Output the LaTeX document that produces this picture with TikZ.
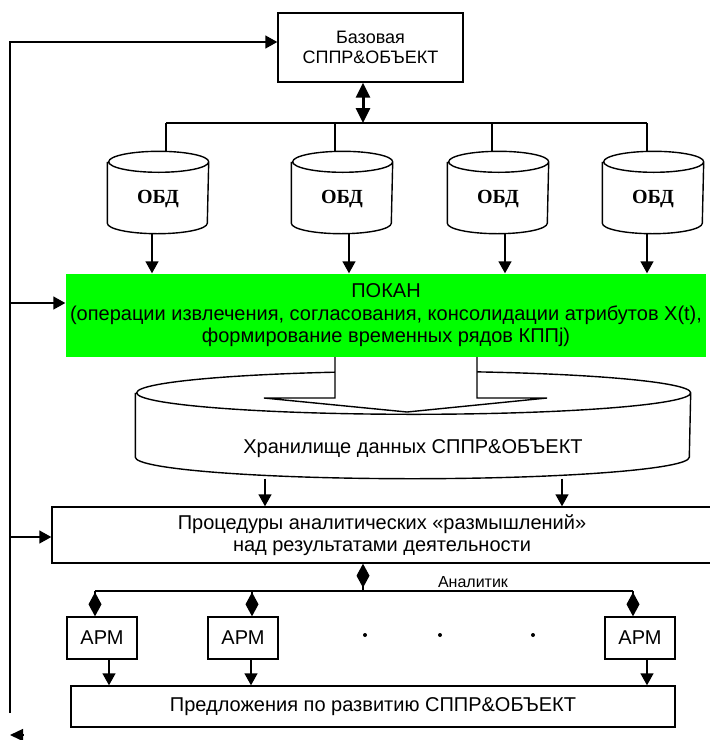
\documentclass[tikz,border=0pt]{standalone}
\usepackage{fontspec}
\setmainfont{Liberation Sans}
\newfontfamily\obdfont{Liberation Serif}
\usetikzlibrary{arrows.meta}
\definecolor{pokangreen}{RGB}{0,255,0}
\tikzset{box/.style={draw,rectangle,align=center,inner sep=0pt,font=\fontsize{20}{22}\selectfont},
  bd/.style={rectangle,inner sep=0pt,minimum width=100pt,minimum height=81pt,text height=27pt,font=\obdfont\bfseries\fontsize{20}{22}\selectfont},
  arr/.style={-{Triangle[length=12pt,width=13pt]}},
  dia/.style={-{Diamond[length=24pt,width=13pt]}}}

\begin{document}
\begin{tikzpicture}[x=1pt,y=-1pt,line width=1.4pt]
\useasboundingbox (0,0) rectangle (710,740);

\node[box,minimum width=185pt,minimum height=69pt,font=\fontsize{18}{20}\selectfont] (top) at (370.5,47.5) {Базовая\\СППР\&ОБЪЕКТ};
\foreach \i/\x in {1/158,2/342,3/498,4/653}
  \node[bd] (obd\i) at (\x,192.5) {ОБД};
\coordinate (b1) at (166,123);
\coordinate (b2) at (335,123);
\coordinate (b3) at (492,123);
\coordinate (b4) at (647,123);
\node[box,draw=none,fill=pokangreen,minimum width=640pt,minimum height=83pt,font=\fontsize{20}{22.5}\selectfont] (pokan) at (386,315.5)
  {ПОКАН\\(операции извлечения, согласования, консолидации атрибутов X(t),\\формирование временных рядов КППj)};
\node[rectangle,inner sep=0pt,minimum width=554pt,minimum height=106pt,text height=62pt,font=\fontsize{20}{22}\selectfont] (store) at (413,425) {Хранилище данных СППР\&ОБЪЕКТ};
\foreach \n/\r/\s in {obd1/50/10.5,obd2/50/10.5,obd3/50/10.5,obd4/50/10.5,store/277/21.5}
  \draw ([yshift=-\s pt]\n.north west) -- ([yshift=\s pt]\n.south west)
    arc[start angle=180,end angle=360,x radius=\r pt,y radius=\s pt]
    -- ([yshift=-\s pt]\n.north east)
    arc[start angle=0,end angle=360,x radius=\r pt,y radius=\s pt];
\fill[white] (335,357) -- (335,398) -- (264,398) -- (407,412) -- (547,398) -- (477,398) -- (477,357) -- cycle;
\draw[line join=miter] (335,357) -- (335,398) -- (264,398) -- (407,412) -- (547,398) -- (477,398) -- (477,357);
\node[box,minimum width=660pt,minimum height=56pt] (proc) at (382,535)
  {Процедуры аналитических «размышлений»\\над результатами деятельности};
\node[font=\fontsize{16}{18}\selectfont,inner sep=0pt] (analyst) at (473,582) {Аналитик};
\coordinate (an) at (363,591);
\foreach \i/\x in {1/102,2/243,3/640}
  \node[box,minimum width=70pt,minimum height=42pt] (apm\i) at (\x,638) {АРМ};
\node[box,minimum width=604pt,minimum height=41pt] (sug) at (373,706.5) {Предложения по развитию СППР\&ОБЪЕКТ};
\coordinate (fb) at (10,713);
\coordinate (fbend) at (10,735);

\draw[line width=3pt,{Triangle[length=15pt,width=14pt]}-{Triangle[length=15pt,width=14pt]}] (top.south -| 363,0) -- (363,123);
\draw (b1) -- (b4);
\foreach \i in {1,...,4}
  \draw (b\i) -- (b\i |- obd\i.north);
\foreach \i/\d in {1/-6,2/7,3/7,4/-6}
  \draw[arr] ([xshift=\d pt]obd\i.south) -- ([xshift=\d pt]obd\i.south |- pokan.north);
\draw[arr] (store.south -| 265,0) -- (proc.north -| 265,0);
\draw[arr] (store.south -| 562,0) -- (proc.north -| 562,0);
\draw[{Diamond[length=24pt,width=13pt]}-] (proc.south -| an) -- (an);
\draw (95,591) -- (633,591);
\foreach \x/\i in {95/1,252/2,633/3}
  \draw[dia] (\x,591) -- (apm\i.north -| \x,0);
\foreach \x in {365,440,533}
  \fill (\x,635) circle (2);
\foreach \x/\i in {109/1,251/2,647/3}
  \draw[arr] (apm\i.south -| \x,0) -- (sug.north -| \x,0);
\draw[arr] (fb) |- (top.west |- 0,42);
\draw[arr] (10,303) -- (pokan.west |- 0,303);
\draw[arr] (10,537) -- (proc.west |- 0,537);
\draw[-{Triangle[length=13pt,width=12pt]}] (23,735) -- (fbend);
\end{tikzpicture}
\end{document}
